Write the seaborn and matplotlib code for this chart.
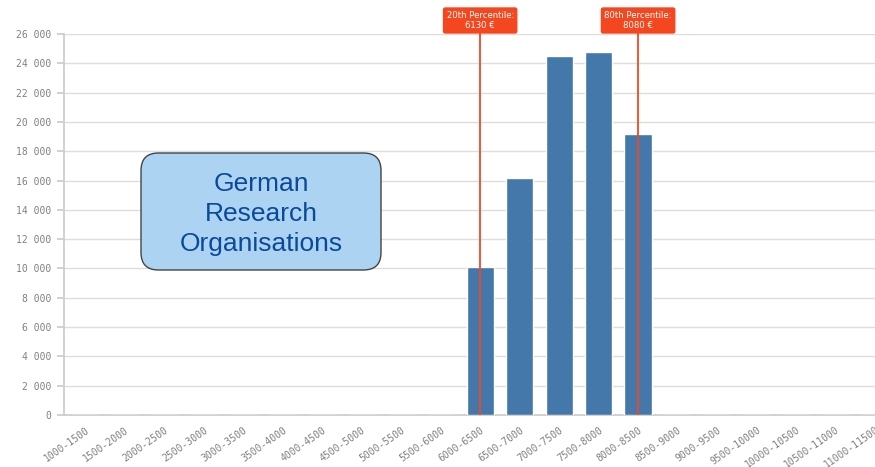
import numpy as np
import pandas as pd
import seaborn as sns
import matplotlib
matplotlib.use("Agg")
import matplotlib.pyplot as plt
from matplotlib.patches import FancyBboxPatch
from matplotlib.ticker import FuncFormatter, MultipleLocator

categories = ["1000-1500", "1500-2000", "2000-2500", "2500-3000", "3000-3500",
              "3500-4000", "4000-4500", "4500-5000", "5000-5500", "5500-6000",
              "6000-6500", "6500-7000", "7000-7500", "7500-8000", "8000-8500",
              "8500-9000", "9000-9500", "9500-10000", "10000-10500",
              "10500-11000", "11000-11500"]
counts = [0, 0, 0, 0, 0, 0, 0, 0, 0, 0,
          10100, 16200, 24500, 24800, 19200,
          0, 0, 0, 0, 0, 0]
percentile_names = ["20th Percentile:", "80th Percentile:"]
percentile_values = [6130, 8080]
box_text = "German\nResearch\nOrganisations"

sns.set_theme(style="white")
W, H = 875, 467
fig = plt.figure(figsize=(W / 100, H / 100), dpi=100)
ax = fig.add_axes([64 / W, 1 - 415 / H, 1 - 64 / W, (415 - 34) / H])

df = pd.DataFrame({"range": categories, "count": counts})
sns.barplot(data=df, x="range", y="count", color="#4477aa", saturation=1,
            width=0.69, ax=ax, zorder=3)

ax.set_ylim(0, 26000)
ax.set_xlim(-0.54, 19.86)
ax.yaxis.set_major_locator(MultipleLocator(2000))
ax.yaxis.set_major_formatter(FuncFormatter(lambda v, p: f"{int(v):,}".replace(",", "\u2009")))
ax.grid(axis="y", color="#dddddd", linewidth=1, zorder=0)
ax.set_axisbelow(True)
ax.set_xlabel("")
ax.set_ylabel("")
for s in ["top", "right"]:
    ax.spines[s].set_visible(False)
ax.spines["left"].set_color("#cccccc")
ax.spines["bottom"].set_color("#cccccc")
ax.tick_params(axis="y", left=True, length=5, color="#cccccc", labelsize=7,
               labelcolor="#808080", pad=4)
ax.tick_params(axis="x", bottom=False, labelsize=7, labelcolor="#808080", pad=1)
for lab in ax.get_yticklabels():
    lab.set_family("DejaVu Sans Mono")
ax.set_xticks(range(len(categories)))
ax.set_xticklabels(categories, rotation=35, ha="right", rotation_mode="anchor",
                   family="DejaVu Sans Mono")

# percentile markers: drawn at the bin containing the value
red = "#f5471f"
for name, val in zip(percentile_names, percentile_values):
    idx = int((val - 1000) // 500)
    ax.axvline(idx, ymin=0, ymax=1.0, color=red, linewidth=1.3, zorder=5)
    ax.plot([idx, idx], [26000, 26300], color=red, linewidth=1.3, clip_on=False, zorder=5)
    ax.annotate(f"{name}\n{val} €", xy=(idx, 1 - 20.5 / H), xycoords=("data", "figure fraction"),
                annotation_clip=False, zorder=20,
                ha="center", va="center", color="white", fontsize=6.1,
                family="DejaVu Sans", linespacing=1.15,
                bbox=dict(boxstyle="round,pad=0.35,rounding_size=0.2", fc=red, ec=red))

# info box
box = FancyBboxPatch((141 / W, 1 - 270 / H), 240 / W, 117 / H,
                     boxstyle="round,pad=0,rounding_size=0.02",
                     transform=fig.transFigure, fc="#acd3f2", ec="#444444",
                     linewidth=1, zorder=10, mutation_aspect=W / H)
fig.patches.append(box)
fig.text(261 / W, 1 - 214 / H, box_text, ha="center", va="center",
         fontsize=19, color="#0b4a9a", family="Liberation Sans",
         linespacing=1.3, zorder=11)

fig.savefig("out.png", dpi=100)
